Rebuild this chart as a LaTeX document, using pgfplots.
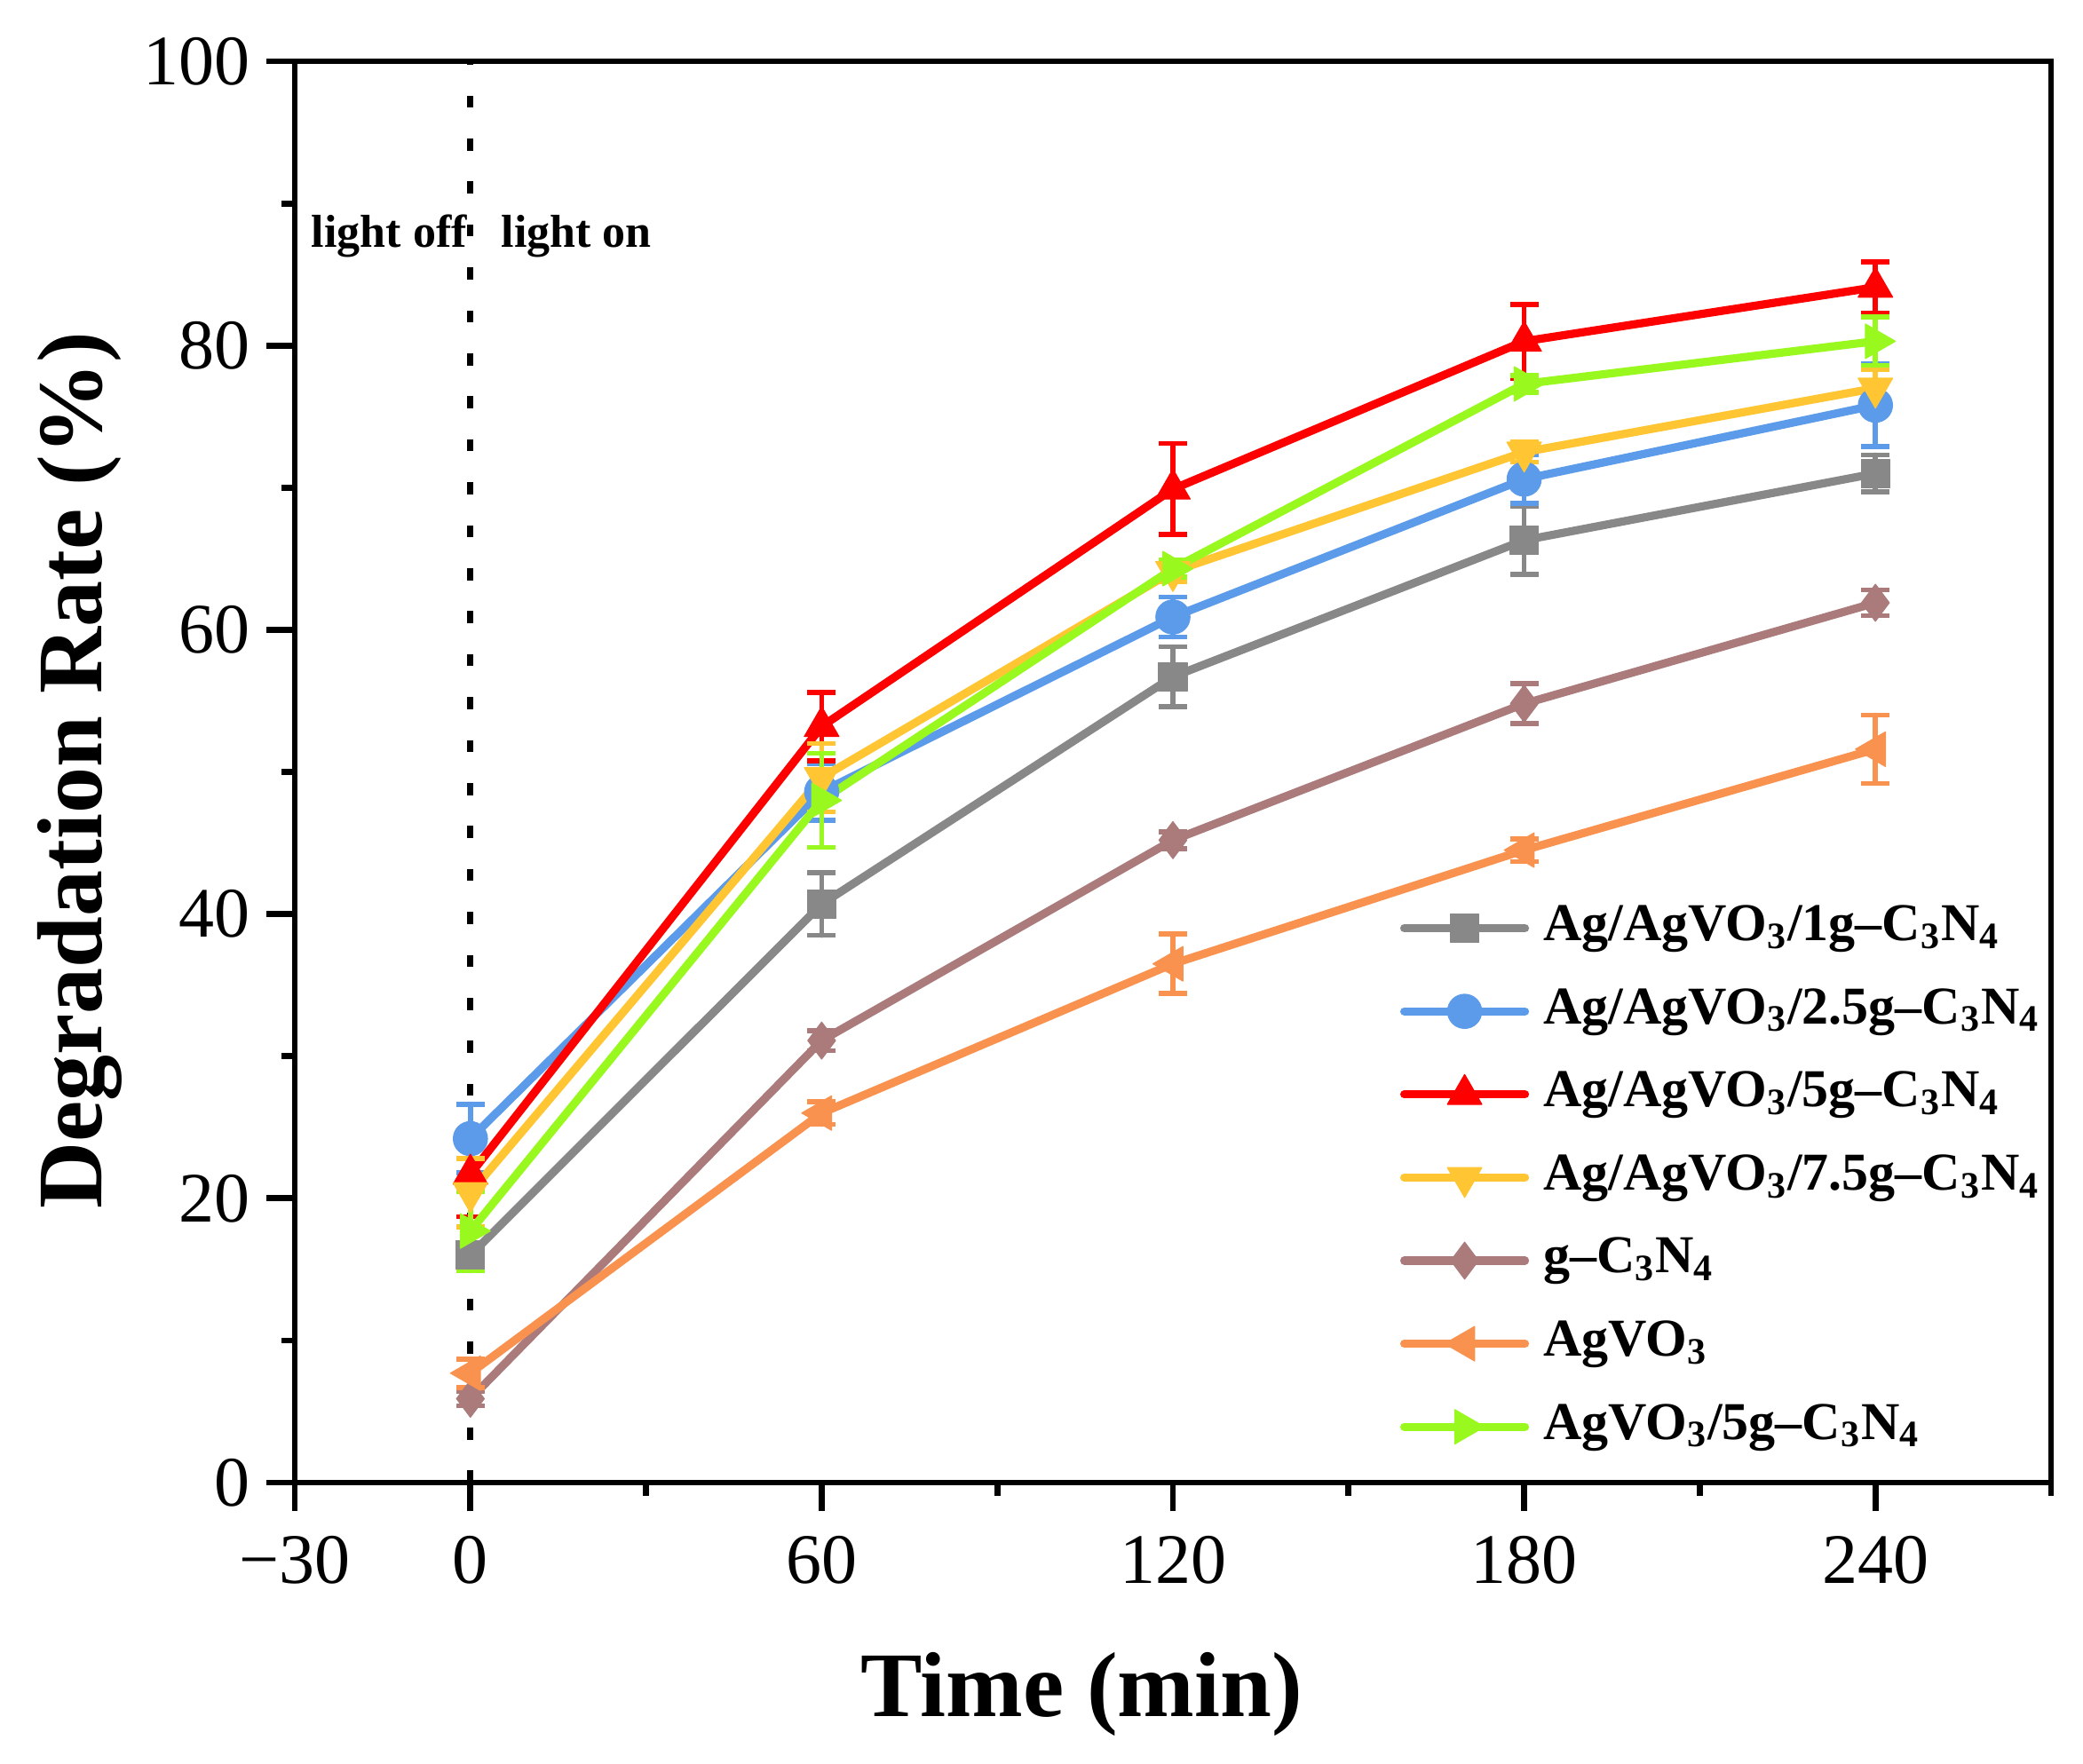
\documentclass[border=0pt]{standalone}
\usepackage{fontspec}
\setmainfont{Liberation Serif}
\usepackage{pgfplots}
\pgfplotsset{compat=1.18}
\usepackage{pgfplotstable}

\definecolor{cGray}{HTML}{888888}
\definecolor{cBlue}{HTML}{5B9BEA}
\definecolor{cRed}{HTML}{FF0000}
\definecolor{cYellow}{HTML}{FFC533}
\definecolor{cBrown}{HTML}{AB7B7B}
\definecolor{cOrange}{HTML}{F9924F}
\definecolor{cGreen}{HTML}{99F81E}

\pgfplotstableread{
x y e
0 16.0 0.9
60 40.7 2.2
120 56.7 2.1
180 66.3 2.4
240 71.0 1.3
}\tabGray
\pgfplotstableread{
x y e
0 24.2 2.4
60 48.6 2.0
120 60.9 1.4
180 70.6 1.7
240 75.8 2.9
}\tabBlue
\pgfplotstableread{
x y e
0 21.7 3.0
60 53.2 2.4
120 69.9 3.2
180 80.3 2.6
240 84.1 1.8
}\tabRed
\pgfplotstableread{
x y e
0 20.4 2.4
60 49.6 2.4
120 64.1 0.7
180 72.5 0.7
240 77.0 1.3
}\tabYellow
\pgfplotstableread{
x y e
0 5.9 0.5
60 31.1 0.7
120 45.2 0.6
180 54.8 1.4
240 61.9 0.9
}\tabBrown
\pgfplotstableread{
x y e
0 7.7 1.0
60 26.0 0.8
120 36.5 2.1
180 44.5 0.8
240 51.6 2.4
}\tabOrange
\pgfplotstableread{
x y e
0 17.7 2.8
60 48.0 3.3
120 64.3 0.6
180 77.3 0.6
240 80.3 1.7
}\tabGreen

\pgfplotsset{
  myplot/.style={line width=2.3pt, line cap=round, line join=round,
    every mark/.append style={solid, line width=0.3pt, fill=#1, draw=#1},
    error bars/.cd, y dir=both, y explicit,
    error bar style={line width=1.4pt, solid},
    error mark options={rotate=90, mark size=4pt, line width=1.4pt}},
}

\begin{document}
\begin{tikzpicture}
\path[use as bounding box] (-83pt,-79pt) rectangle (503.5pt,417.5pt);
\begin{axis}[
  at={(0pt,0pt)}, anchor=south west,
  width=494.5pt, height=400.25pt, scale only axis,
  xmin=-30, xmax=270, ymin=0, ymax=100,
  xtick={-30,0,60,120,180,240},
  xticklabels={−30,0,60,120,180,240},
  minor xtick={30,90,150,210,270},
  ytick={0,20,40,60,80,100},
  minor ytick={10,30,50,70,90},
  tick pos=left, tick align=outside,
  major tick length=8pt, minor tick length=3.75pt,
  tick style={black, line width=1.7pt},
  axis line style={line width=1.7pt},
  /pgf/number format/assume math mode=true,
  ticklabel style={font=\fontsize{20}{24}\selectfont},
  xticklabel style={yshift=-3.5pt},
  yticklabel style={xshift=-1.2pt},
  xlabel={Time (min)},
  ylabel={Degradation Rate (\%)},
  xlabel style={font=\fontsize{26}{30}\selectfont\bfseries, at={(axis description cs:0.448,-0.1487)}, anchor=center},
  ylabel style={font=\fontsize{26}{30}\selectfont\bfseries, at={(axis description cs:-0.1224,0.501)}, anchor=center, rotate=0},
  legend style={at={(axis description cs:0.629,0.02)}, anchor=south west,
    draw=none, fill=none, inner sep=0pt, row sep=8.4pt,
    font=\fontsize{15}{18}\selectfont\bfseries,
    nodes={text height=11pt, text depth=4pt, inner ysep=0pt, inner xsep=4pt}},
  legend cell align=left,
  legend image code/.code={\draw[mark repeat=2,mark phase=2,#1] plot coordinates {(0pt,0pt)(17pt,0pt)(34pt,0pt)};},
]
\addplot[black, line width=1.7pt, dash pattern=on 3.4pt off 8.7pt, forget plot] coordinates {(0,0) (0,100)};

\addplot[cGray, mark=square*, mark size=4pt, myplot=cGray] table[x=x,y=y,y error=e]{\tabGray};
\addlegendentry{Ag/AgVO\textsubscript{3}/1g–C\textsubscript{3}N\textsubscript{4}}
\addplot[cBlue, mark=*, mark size=4.8pt, myplot=cBlue] table[x=x,y=y,y error=e]{\tabBlue};
\addlegendentry{Ag/AgVO\textsubscript{3}/2.5g–C\textsubscript{3}N\textsubscript{4}}
\addplot[cRed, mark=triangle*, mark size=5.6pt, myplot=cRed] table[x=x,y=y,y error=e]{\tabRed};
\addlegendentry{Ag/AgVO\textsubscript{3}/5g–C\textsubscript{3}N\textsubscript{4}}
\addplot[cYellow, mark=triangle*, mark size=5.6pt, mark options={rotate=180}, myplot=cYellow] table[x=x,y=y,y error=e]{\tabYellow};
\addlegendentry{Ag/AgVO\textsubscript{3}/7.5g–C\textsubscript{3}N\textsubscript{4}}
\addplot[cBrown, mark=diamond*, mark size=5.2pt, myplot=cBrown] table[x=x,y=y,y error=e]{\tabBrown};
\addlegendentry{g–C\textsubscript{3}N\textsubscript{4}}
\addplot[cOrange, mark=triangle*, mark size=5.6pt, mark options={rotate=90}, myplot=cOrange] table[x=x,y=y,y error=e]{\tabOrange};
\addlegendentry{AgVO\textsubscript{3}}
\addplot[cGreen, mark=triangle*, mark size=5.6pt, mark options={rotate=-90}, myplot=cGreen] table[x=x,y=y,y error=e]{\tabGreen};
\addlegendentry{AgVO\textsubscript{3}/5g–C\textsubscript{3}N\textsubscript{4}}

\node[anchor=base east, inner sep=0pt, font=\fontsize{13}{15}\selectfont\bfseries] at (axis cs:-0.5,86.9) {light off};
\node[anchor=base west, inner sep=0pt, font=\fontsize{13}{15}\selectfont\bfseries] at (axis cs:5.2,86.9) {light on};
\end{axis}
\end{tikzpicture}
\end{document}
